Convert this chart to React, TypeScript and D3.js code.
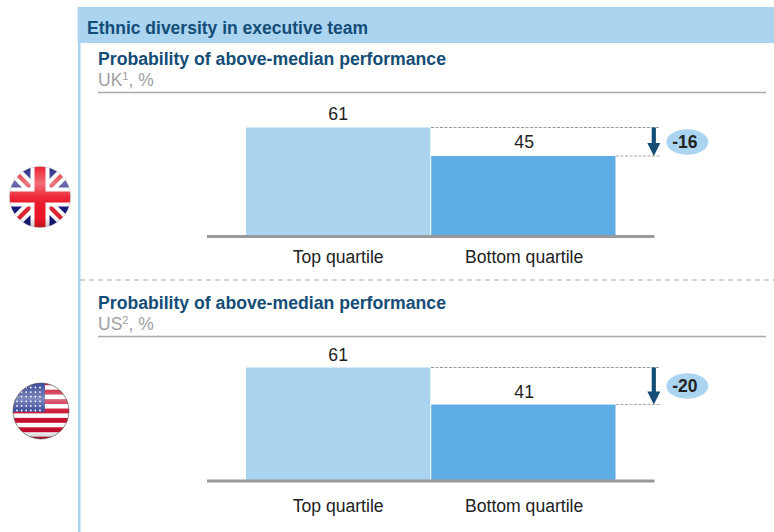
import React from "react";
import * as d3 from "d3";

const categories = ["Top quartile", "Bottom quartile"];
const ukValues = [61, 45];
const usValues = [61, 41];
const ukDelta = -16;
const usDelta = -20;

const FONT = "'Liberation Sans', Arial, sans-serif";
const NAVY = "#144d76";
const LIGHT = "#abd4f1";
const MID = "#5eaee5";
const GREY = "#a0a0a2";

type PanelProps = { values: number[]; delta: number; base: number; top: number; title: number; region: string; note: string; badgeY: number; labelGap: number; valueGap: number };

function Panel({ values, delta, base, top, title, region, note, badgeY, labelGap, valueGap }: PanelProps) {
  const x = d3.scaleBand<string>().domain(categories).range([246, 615.5]).paddingInner(0.005);
  const y = d3.scaleLinear().domain([0, values[0]]).range([base, top]);
  const yHi = y(values[0]);
  const yLo = y(values[1]);
  return (
    <g>
      <text x={98} y={title} fontSize={17.65} fontWeight={700} fill={NAVY}>Probability of above-median performance</text>
      <text x={98} y={title + 21} fontSize={17.5} fill={GREY}>
        {region}
        <tspan fontSize={11} dy={-6}>{note}</tspan>
        <tspan dy={6}>, %</tspan>
      </text>
      <line x1={98} x2={766} y1={title + 27.5} y2={title + 27.5} stroke="#a8a8a8" strokeWidth={1.3} />
      {categories.map((c, i) => (
        <g key={c}>
          <rect x={x(c)} y={y(values[i])} width={x.bandwidth()} height={base - y(values[i])} fill={i === 0 ? LIGHT : MID} />
          <text x={x(c)! + x.bandwidth() / 2 + i * 0.8} y={y(values[i]) - valueGap} textAnchor="middle" fontSize={17.6} fill="#222">{values[i]}</text>
          <text x={x(c)! + x.bandwidth() / 2 + i * 0.8} y={base + labelGap} textAnchor="middle" fontSize={17.6} fill="#222">{c}</text>
        </g>
      ))}
      <line x1={207} x2={654.5} y1={base + 0.5} y2={base + 0.5} stroke="#9a9a9c" strokeWidth={3} />
      <line x1={431} x2={660} y1={yHi} y2={yHi} stroke="#999" strokeWidth={1} strokeDasharray="3 1.5" />
      <line x1={616} x2={660} y1={yLo} y2={yLo} stroke="#aaa" strokeWidth={1} strokeDasharray="3 1.5" />
      <line x1={653.8} x2={653.8} y1={yHi} y2={yLo - 12} stroke={NAVY} strokeWidth={4.2} />
      <path d={`M647.3 ${yLo - 13}H660.3L653.8 ${yLo}Z`} fill={NAVY} />
      <ellipse cx={687.3} cy={badgeY} rx={21} ry={12.8} fill={LIGHT} />
      <text x={684.8} y={badgeY + 6} textAnchor="middle" fontSize={17.5} fontWeight={700} fill="#222">{delta}</text>
    </g>
  );
}

function UKFlag() {
  const cx = 40, cy = 197, r = 30.5;
  return (
    <g>
      <clipPath id="ukClip"><circle cx={cx} cy={cy} r={r} /></clipPath>
      <g clipPath="url(#ukClip)" filter="url(#soft)">
        <rect x={cx - r} y={cy - r} width={2 * r} height={2 * r} fill="#14177a" />
        <line x1={cx - r} y1={cy - r} x2={cx + r} y2={cy + r} stroke="#fff" strokeWidth={12} />
        <line x1={cx + r} y1={cy - r} x2={cx - r} y2={cy + r} stroke="#fff" strokeWidth={12} />
        <line x1={cx - r} y1={cy - r} x2={cx + r} y2={cy + r} stroke="#e0202f" strokeWidth={4.5} />
        <line x1={cx + r} y1={cy - r} x2={cx - r} y2={cy + r} stroke="#e0202f" strokeWidth={4.5} />
        <rect x={cx - r} y={cy - 9.5} width={2 * r} height={19} fill="#fff" />
        <rect x={cx - 9.5} y={cy - r} width={19} height={2 * r} fill="#fff" />
        <rect x={cx - r} y={cy - 5.5} width={2 * r} height={11} fill="#ee1226" />
        <rect x={cx - 5.5} y={cy - r} width={11} height={2 * r} fill="#ee1226" />
      </g>
      <circle cx={cx} cy={cy} r={r} fill="url(#gloss)" />
      <circle cx={cx} cy={cy} r={r} fill="none" stroke="#8a8a8a" strokeOpacity={0.35} />
    </g>
  );
}

function USFlag() {
  const cx = 41, cy = 411, r = 28;
  const stripeIdx = d3.range(-3, 4);
  const stars: [number, number][] = [];
  d3.range(6).forEach((row) => d3.range(6).forEach((col) => stars.push([col, row])));
  return (
    <g>
      <clipPath id="usClip"><circle cx={cx} cy={cy} r={r} /></clipPath>
      <g clipPath="url(#usClip)" filter="url(#soft)">
        <rect x={cx - r} y={cy - r} width={2 * r} height={2 * r} fill="#fff" />
        {stripeIdx.map((i) => (
          <rect key={i} x={cx - r} y={cy + i * 9.4 - 2.5} width={2 * r} height={4.9} fill="#c8102e" />
        ))}
        <rect x={cx - r} y={cy - r} width={r * 1.14} height={r * 1.03} fill="#2f3f95" />
        {stars.map(([c, w]) => (
          <circle key={`${c}-${w}`} cx={cx - r + 4 + c * 4.6} cy={cy - r + 4.5 + w * 4.6} r={0.9} fill="#fff" />
        ))}
      </g>
      <circle cx={cx} cy={cy} r={r} fill="url(#gloss)" />
      <circle cx={cx} cy={cy} r={r} fill="none" stroke="#444" strokeOpacity={0.6} />
    </g>
  );
}

export default function App() {
  return (
    <svg width={774} height={532} style={{ position: "absolute", left: 0, top: 0, fontFamily: FONT }}>
      <defs>
        <linearGradient id="gloss" x1="0" y1="0" x2="0" y2="1">
          <stop offset="0" stopColor="#fff" stopOpacity={0.05} />
          <stop offset="0.28" stopColor="#fff" stopOpacity={0.38} />
          <stop offset="0.5" stopColor="#fff" stopOpacity={0.08} />
          <stop offset="0.82" stopColor="#000" stopOpacity={0} />
          <stop offset="1" stopColor="#000" stopOpacity={0.2} />
        </linearGradient>
        <filter id="soft" x="-5%" y="-5%" width="110%" height="110%">
          <feGaussianBlur stdDeviation="0.5" />
        </filter>
      </defs>
      <rect width={774} height={532} fill="#fff" />
      <rect x={78} y={7} width={2.5} height={525} fill={LIGHT} />
      <rect x={77.5} y={7} width={696.5} height={36} fill={LIGHT} />
      <text x={87} y={34} fontSize={17.5} fontWeight={700} fill={NAVY}>Ethnic diversity in executive team</text>
      <line x1={80} x2={774} y1={280} y2={280} stroke="#a8a8a8" strokeWidth={1.2} strokeDasharray="5 4" />
      <Panel values={ukValues} delta={ukDelta} base={236} top={127.5} title={65} region="UK" note="1" badgeY={142} labelGap={27} valueGap={8} />
      <Panel values={usValues} delta={usDelta} base={480.5} top={367.5} title={309} region="US" note="2" badgeY={386} labelGap={31.5} valueGap={7} />
      <UKFlag />
      <USFlag />
    </svg>
  );
}
